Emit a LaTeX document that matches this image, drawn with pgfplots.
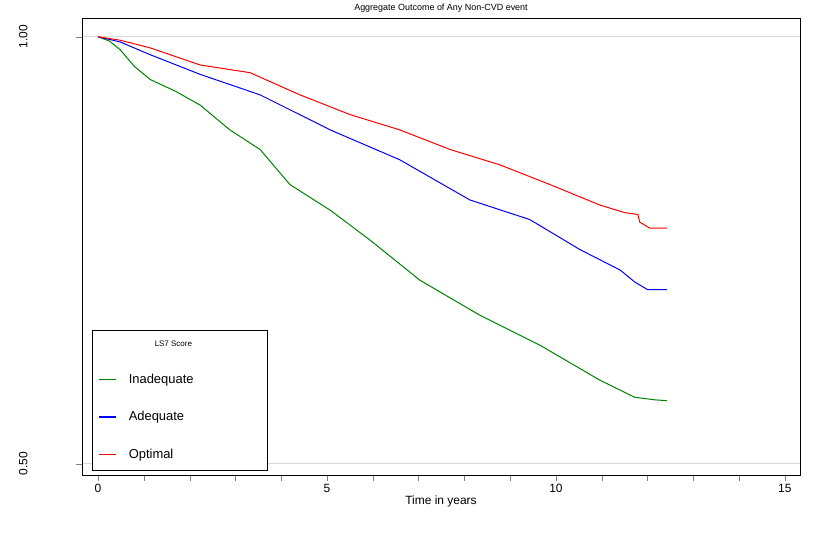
\documentclass[border=0pt]{standalone}
\usepackage{pgfplots}
\pgfplotsset{compat=1.18}
\usepackage{fontspec}
\setmainfont{Liberation Sans}
\usetikzlibrary{calc}
\definecolor{sgreen}{RGB}{0,128,0}
\definecolor{sblue}{RGB}{0,0,255}
\definecolor{sred}{RGB}{255,0,0}
\begin{document}
\begin{tikzpicture}[x=1bp,y=1bp]
\begin{axis}[name=ax,
  scale only axis, width=718bp, height=457bp,
  xmin=-0.35, xmax=15.33, ymin=0.487, ymax=1.022,
  xtick={0,5,10,15}, minor xtick={1,2,3,4,6,7,8,9,11,12,13,14},
  ytick={0.5,1.0}, yticklabels={0.50,1.00},
  yticklabel style={rotate=90, anchor=south, yshift=45bp, font=\fontsize{12}{14}\selectfont},
  xticklabel style={font=\fontsize{12}{14}\selectfont},
  /pgf/number format/assume math mode=true,
  tick align=outside, tick pos=left,
  major tick length=6bp, minor tick length=6bp,
  ymajorgrids, grid style={gray!30, line width=0.8pt},
  axis line style={line width=0.6pt},
  title={Aggregate Outcome of Any Non-CVD event},
  title style={font=\fontsize{9}{10}\selectfont, yshift=-4bp},
  xlabel={Time in years}, xlabel style={font=\fontsize{12}{14}\selectfont, yshift=4bp},
  legend style={at={(0.014,0.011)}, anchor=south west, draw=black, fill=white,
    font=\fontsize{13}{15}\selectfont, row sep=22.5bp, inner xsep=6bp, inner ysep=8bp},
  legend cell align=left,
]
\addlegendimage{empty legend}
\addlegendentry{\hspace{-20bp}\fontsize{8}{10}\selectfont\hspace{56bp}LS7 Score}
\addlegendimage{line legend, draw=sgreen, line width=1.5pt}
\addlegendentry{\makebox[140bp][l]{\hspace{10bp}Inadequate}}
\addlegendimage{line legend, draw=sblue, line width=1.5pt}
\addlegendentry{\hspace{10bp}Adequate}
\addlegendimage{line legend, draw=sred, line width=1.5pt}
\addlegendentry{\hspace{10bp}Optimal}
\addplot[sgreen, line width=1pt, forget plot] coordinates {
(0,1) (0.25,0.995) (0.48,0.985) (0.8,0.965) (1.14,0.950) (1.7,0.936) (2.23,0.920) (2.88,0.891) (3.54,0.868) (4.19,0.827)
(5.07,0.797) (5.94,0.762) (7.03,0.715) (8.34,0.674) (9.65,0.639) (10.96,0.598)
(11.72,0.578) (12.16,0.575) (12.42,0.574)};
\addplot[sblue, line width=1pt, forget plot] coordinates {
(0,1) (0.48,0.994) (1.14,0.979) (2.23,0.956) (3.54,0.932) (5.07,0.891) (6.59,0.856)
(8.12,0.809) (9.43,0.786) (10.52,0.751) (11.40,0.727) (11.72,0.713) (12.0,0.704) (12.42,0.704)};
\addplot[sred, line width=1pt, forget plot] coordinates {
(0,1) (0.48,0.996) (1.14,0.987) (2.23,0.967) (3.32,0.958) (4.41,0.932) (5.50,0.909)
(6.59,0.891) (7.69,0.868) (8.78,0.850) (9.87,0.827) (10.96,0.803) (11.51,0.794)
(11.79,0.792) (11.83,0.783) (12.05,0.776) (12.42,0.776)};
\end{axis}
\pgfresetboundingbox
\path[use as bounding box] ($(ax.south west)+(-82bp,-62bp)$) rectangle ($(ax.north east)+(13bp,18bp)$);
\end{tikzpicture}
\end{document}
